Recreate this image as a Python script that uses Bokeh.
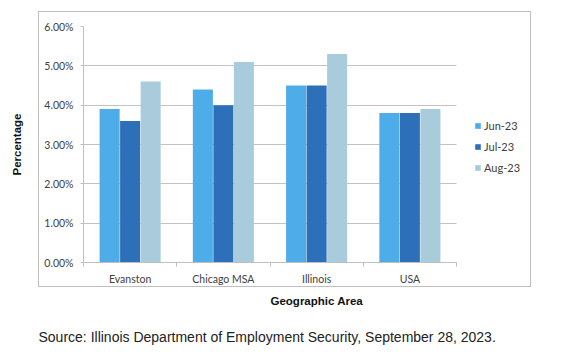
from bokeh.plotting import figure
from bokeh.models import (ColumnDataSource, FixedTicker, PrintfTickFormatter, Legend,
                          LegendItem, Title, Range1d, InlineStyleSheet)
from bokeh.transform import dodge
from bokeh.embed import file_html
from bokeh.resources import INLINE

areas = ["Evanston", "Chicago MSA", "Illinois", "USA"]
months = ["Jun-23", "Jul-23", "Aug-23"]
jun = [3.9, 4.4, 4.5, 3.8]
jul = [3.6, 4.0, 4.5, 3.8]
aug = [4.6, 5.1, 5.3, 3.9]
y_ticks = [0, 1, 2, 3, 4, 5, 6]
source_text = "Source: Illinois Department of Employment Security, September 28, 2023."

colors = ["#4EADE8", "#2E6FBA", "#A9CCDC"]

n = len(areas)
centers = [i + 0.5 for i in range(n)]
bounds = list(range(n + 1))
src = ColumnDataSource(dict(x=centers, jun=jun, jul=jul, aug=aug))

# plot area 83..456 px holds the categories; the frame extends to 530 px for the legend
frame_left, plot_right, frame_right = 83, 456, 530
x_end = n * (frame_right - frame_left) / (plot_right - frame_left)

box_css = InlineStyleSheet(css="""
:host::after {
  content: ""; position: absolute; left: 38px; top: 11px;
  width: 491px; height: 274px; border: 1px solid #BFBFBF;
  pointer-events: none; box-sizing: content-box;
}
""")

p = figure(width=570, height=360, output_backend="svg", toolbar_location=None,
           x_range=Range1d(0, x_end), y_range=Range1d(0, 6),
           min_border_left=frame_left, min_border_right=570 - frame_right,
           min_border_top=26, min_border_bottom=98, stylesheets=[box_css])

renderers = []
for col, off, c in zip(["jun", "jul", "aug"], [-0.22, 0.0, 0.22], colors):
    r = p.vbar(x=dodge("x", off), top=col, width=0.215, source=src,
               fill_color=c, line_color=None)
    renderers.append(r)

legend = Legend(items=[LegendItem(label=m, renderers=[r]) for m, r in zip(months, renderers)],
                location=(391, 88), padding=0, margin=0, spacing=8,
                glyph_width=7, glyph_height=7, label_height=8, label_standoff=3,
                label_text_font="Lato", label_text_font_size="11px",
                label_text_color="#404040", border_line_color=None,
                background_fill_alpha=0)
p.add_layout(legend)

p.outline_line_color = None
p.xgrid.visible = False
p.ygrid.grid_line_color = "#C2C2C2"
if hasattr(p.ygrid[0], "cross_bounds"):
    p.ygrid[0].cross_bounds = (0, n)

ya = p.yaxis[0]
ya.ticker = FixedTicker(ticks=y_ticks)
ya.formatter = PrintfTickFormatter(format="%.2f%%")
ya.major_tick_out = 3
ya.major_tick_in = 0
ya.minor_tick_out = 0
ya.major_tick_line_color = "#BFBFBF"
ya.axis_line_color = "#BFBFBF"
ya.major_label_standoff = 7
ya.major_label_text_font = "Lato"
ya.major_label_text_font_size = "10.5px"
ya.major_label_text_color = "#404040"
ya.axis_label = "Percentage"
ya.axis_label_text_font = "Liberation Sans"
ya.axis_label_text_font_size = "11.5px"
ya.axis_label_text_font_style = "bold"
ya.axis_label_text_color = "#111111"
ya.axis_label_standoff = 18

xa = p.xaxis[0]
xa.bounds = (0, n)
xa.ticker = FixedTicker(ticks=centers, minor_ticks=bounds)
xa.major_label_overrides = {c: a for c, a in zip(centers, areas)}
xa.major_tick_out = 0
xa.major_tick_in = 0
xa.minor_tick_out = 4
xa.minor_tick_in = 0
xa.minor_tick_line_color = "#BFBFBF"
xa.axis_line_color = "#BFBFBF"
xa.major_label_standoff = 6
xa.major_label_text_font = "Lato"
xa.major_label_text_font_size = "10.5px"
xa.major_label_text_color = "#404040"

p.add_layout(Title(text="Geographic Area", align="left", offset=187,
                   text_font="Liberation Sans", text_font_size="11.5px",
                   text_font_style="bold", text_color="#111111", standoff=10), "below")
p.add_layout(Title(text=source_text, align="left", offset=-45,
                   text_font="Liberation Sans", text_font_size="14px",
                   text_font_style="normal", text_color="#222222", standoff=31), "below")

open("out.html", "w").write(file_html(p, INLINE))
